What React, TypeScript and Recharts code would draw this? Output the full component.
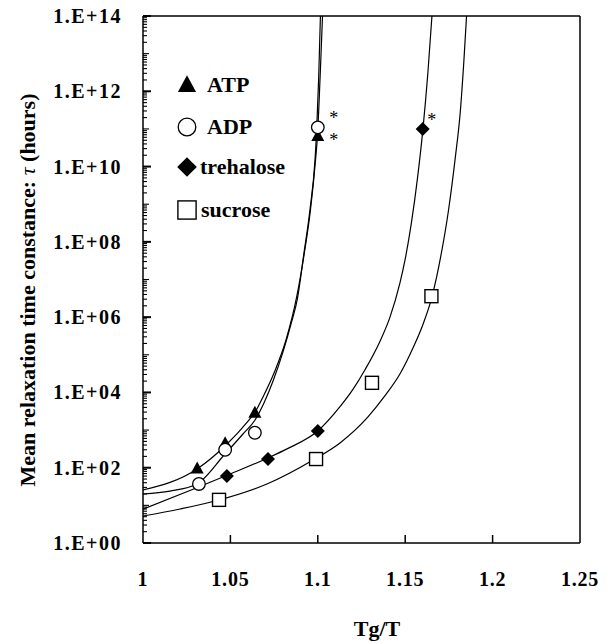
import {
  ComposedChart,
  Line,
  Scatter,
  XAxis,
  YAxis,
  ReferenceDot,
  ReferenceLine,
} from "recharts";

// fitted curves as (Tg/T, tau)
const atpCurveX = [1.0, 1.0309, 1.0475, 1.0606, 1.0638, 1.0692, 1.0752, 1.0818, 1.0878, 1.0924, 1.0958, 1.0987, 1.0998, 1.1013, 1.1027];
const atpCurveY = [25.6, 92.5, 402, 1850, 2840, 8550, 3.49e4, 2.47e5, 3.23e6, 5.38e7, 7.03e8, 1.5e10, 6.46e10, 2.26e12, 1e14];

const adpCurveX = [1.0, 1.0154, 1.0309, 1.0469, 1.0572, 1.0641, 1.0692, 1.0744, 1.0801, 1.0847, 1.0884, 1.0921, 1.0955, 1.0984, 1.0994, 1.1005, 1.1015];
const adpCurveY = [20, 24, 37, 231, 787, 1850, 5250, 2.01e4, 1.19e5, 6.6e5, 3.2e6, 5.1e7, 7e8, 1.5e10, 1.06e11, 2.26e12, 1e14];

const treCurveX = [1.0, 1.0297, 1.0481, 1.0715, 1.0824, 1.1001, 1.1127, 1.1201, 1.127, 1.1356, 1.1413, 1.147, 1.1499, 1.1535, 1.157, 1.1602, 1.163, 1.1653];
const treCurveY = [7.9, 28, 63, 182, 316, 955, 4170, 1.2e4, 4e4, 2.3e5, 1e6, 8.1e6, 3.3e7, 3.1e8, 4.8e9, 1.05e11, 3.2e12, 1e14];

const sucCurveX = [1.0, 1.0212, 1.0435, 1.0709, 1.0973, 1.1127, 1.1287, 1.1379, 1.1473, 1.1547, 1.1596, 1.1653, 1.1705, 1.1748, 1.1785, 1.1816, 1.1836, 1.1851];
const sucCurveY = [5.2, 8, 13.9, 36.9, 160, 454, 2230, 7570, 3.28e4, 1.61e5, 5.48e5, 3.44e6, 4.48e7, 7.03e8, 1.5e10, 3.19e11, 6.8e12, 1e14];

// measured points
const atpX = [1.031, 1.047, 1.064, 1.1];
const atpY = [95, 450, 2900, 6.5e10];
const adpX = [1.032, 1.047, 1.064, 1.1];
const adpY = [37, 300, 850, 1.1e11];
const treX = [1.048, 1.0715, 1.1, 1.16];
const treY = [60, 170, 950, 1e11];
const sucX = [1.0435, 1.099, 1.131, 1.165];
const sucY = [14, 170, 1.8e4, 3.6e6];

const xTicks = [1, 1.05, 1.1, 1.15, 1.2, 1.25];
const yExponents = [0, 2, 4, 6, 8, 10, 12, 14];

const zip = (xs: number[], ys: number[]) => xs.map((x, i) => ({ x, y: ys[i] }));

// minor log ticks between the labelled decades
const yMinor: number[] = [];
for (let k = 0; k < 14; k++) {
  for (let m = 1; m < 10; m++) yMinor.push(m * Math.pow(10, k));
}
yMinor.push(1e14);

const FONT = "'Liberation Serif', 'Times New Roman', serif";
// plot is 437px wide for 0.25 and 527px tall for 14 decades
const PX_X = 0.25 / 437;
const PX_DEC = 14 / 527;

const Triangle = ({ cx, cy, s = 1 }: any) => (
  <polygon
    points={`${cx},${cy - 7 * s} ${cx - 6.5 * s},${cy + 5 * s} ${cx + 6.5 * s},${cy + 5 * s}`}
    fill="#000"
  />
);
const Circle = ({ cx, cy, s = 1 }: any) => (
  <circle cx={cx} cy={cy} r={6.3 * s} fill="#fff" stroke="#000" strokeWidth={1.3} />
);
const Diamond = ({ cx, cy, s = 1 }: any) => (
  <polygon
    points={`${cx},${cy - 7 * s} ${cx + 7 * s},${cy} ${cx},${cy + 7 * s} ${cx - 7 * s},${cy}`}
    fill="#000"
  />
);
const Square = ({ cx, cy, s = 1 }: any) => (
  <rect x={cx - 6.5 * s} y={cy - 6.5 * s} width={13 * s} height={13 * s} fill="#fff" stroke="#000" strokeWidth={1.4} />
);

const renderYTick = ({ x, y, payload }: any) => {
  const k = Math.round(Math.log10(payload.value));
  return (
    <text
      x={x - 21}
      y={y}
      textAnchor="end"
      dominantBaseline="central"
      fontFamily={FONT}
      fontWeight="bold"
      fontSize={20}
      letterSpacing={1.5}
      fill="#000"
    >
      {`1.E+${String(k).padStart(2, "0")}`}
    </text>
  );
};

const renderXTick = ({ x, y, payload }: any) => (
  <text
    x={x}
    y={y + 43}
    textAnchor="middle"
    fontFamily={FONT}
    fontWeight="bold"
    fontSize={20}
    letterSpacing={0.8}
    fill="#000"
  >
    {String(payload.value)}
  </text>
);

const star = (dx: number, dy: number) => ({ cx, cy }: any) => (
  <text x={cx + dx} y={cy + dy + 9} textAnchor="middle" fontFamily={FONT} fontSize={18} fill="#000">
    *
  </text>
);

const legendItems = [
  { label: "ATP", Shape: Triangle, cy: 85, tx: 207 },
  { label: "ADP", Shape: Circle, cy: 127, tx: 207 },
  { label: "trehalose", Shape: Diamond, cy: 167, tx: 200 },
  { label: "sucrose", Shape: Square, cy: 210, tx: 201 },
];

export default function App() {
  return (
    <div style={{ position: "relative", width: 613, height: 644, margin: "-8px 0 0 -8px" }}>
      <ComposedChart
        width={613}
        height={644}
        margin={{ top: 16, right: 33, bottom: 61, left: 0 }}
      >
        <XAxis
          dataKey="x"
          type="number"
          domain={[1, 1.25]}
          ticks={xTicks}
          interval={0}
          height={40}
          tickSize={0}
          tickMargin={0}
          tickLine={false}
          axisLine={{ stroke: "#000", strokeWidth: 1.5 }}
          tick={renderXTick}
          allowDataOverflow
        />
        <YAxis
          type="number"
          scale="log"
          domain={[1, 1e14]}
          ticks={yExponents.map((k) => Math.pow(10, k))}
          interval={0}
          width={143}
          tickSize={0}
          tickMargin={0}
          tickLine={false}
          axisLine={{ stroke: "#000", strokeWidth: 1.5 }}
          tick={renderYTick}
          allowDataOverflow
        />
        <ReferenceLine y={1e14} stroke="#000" strokeWidth={1.5} ifOverflow="visible" />
        <ReferenceLine x={1.25} stroke="#000" strokeWidth={1.5} ifOverflow="visible" />
        {yMinor.map((v) => {
          const k = Math.log10(v);
          const decade = Math.abs(k - Math.round(k)) < 1e-9;
          const major = decade && yExponents.includes(Math.round(k));
          const len = major ? 8 : decade ? 6 : 4;
          return (
            <ReferenceLine
              key={`y${v}`}
              segment={[{ x: 1, y: v }, { x: 1 + len * PX_X, y: v }]}
              stroke="#000"
              strokeWidth={major ? 2 : 1.1}
              ifOverflow="visible"
            />
          );
        })}
        {xTicks.slice(1, -1).map((t) => (
          <ReferenceLine
            key={`x${t}`}
            segment={[{ x: t, y: 1 }, { x: t, y: Math.pow(10, 8 * PX_DEC) }]}
            stroke="#000"
            strokeWidth={1.5}
            ifOverflow="visible"
          />
        ))}
        <Line data={zip(atpCurveX, atpCurveY)} dataKey="y" type="monotone" stroke="#000" strokeWidth={1.2} dot={false} isAnimationActive={false} />
        <Line data={zip(adpCurveX, adpCurveY)} dataKey="y" type="monotone" stroke="#000" strokeWidth={1.2} dot={false} isAnimationActive={false} />
        <Line data={zip(treCurveX, treCurveY)} dataKey="y" type="monotone" stroke="#000" strokeWidth={1.2} dot={false} isAnimationActive={false} />
        <Line data={zip(sucCurveX, sucCurveY)} dataKey="y" type="monotone" stroke="#000" strokeWidth={1.2} dot={false} isAnimationActive={false} />
        <Scatter data={zip(atpX, atpY)} dataKey="y" shape={(p: any) => <Triangle cx={p.cx} cy={p.cy} />} isAnimationActive={false} />
        <Scatter data={zip(adpX, adpY)} dataKey="y" shape={(p: any) => <Circle cx={p.cx} cy={p.cy} />} isAnimationActive={false} />
        <Scatter data={zip(treX, treY)} dataKey="y" shape={(p: any) => <Diamond cx={p.cx} cy={p.cy} />} isAnimationActive={false} />
        <Scatter data={zip(sucX, sucY)} dataKey="y" shape={(p: any) => <Square cx={p.cx} cy={p.cy} />} isAnimationActive={false} />
        <ReferenceDot x={adpX[3]} y={adpY[3]} shape={star(16, -12)} ifOverflow="visible" />
        <ReferenceDot x={atpX[3]} y={atpY[3]} shape={star(16, 1)} ifOverflow="visible" />
        <ReferenceDot x={treX[3]} y={treY[3]} shape={star(9, -12)} ifOverflow="visible" />
      </ComposedChart>
      <svg
        width={613}
        height={644}
        style={{ position: "absolute", left: 0, top: 0, pointerEvents: "none" }}
      >
        {legendItems.map(({ label, Shape, cy, tx }) => (
          <g key={label}>
            <Shape cx={187} cy={cy} s={1.4} />
            <text x={tx} y={cy + 7} fontFamily={FONT} fontWeight="bold" fontSize={22} fill="#000">
              {label}
            </text>
          </g>
        ))}
        <text
          transform="translate(27,290) rotate(-90)"
          textAnchor="middle"
          dominantBaseline="central"
          fontFamily={FONT}
          fontWeight="bold"
          fontSize={22}
          fill="#000"
        >
          Mean relaxation time constance:{" "}
          <tspan fontStyle="italic" fontWeight="normal">τ</tspan> (hours)
        </text>
        <text x={377} y={636} textAnchor="middle" fontFamily={FONT} fontWeight="bold" fontSize={22} fill="#000">
          Tg/T
        </text>
      </svg>
    </div>
  );
}
